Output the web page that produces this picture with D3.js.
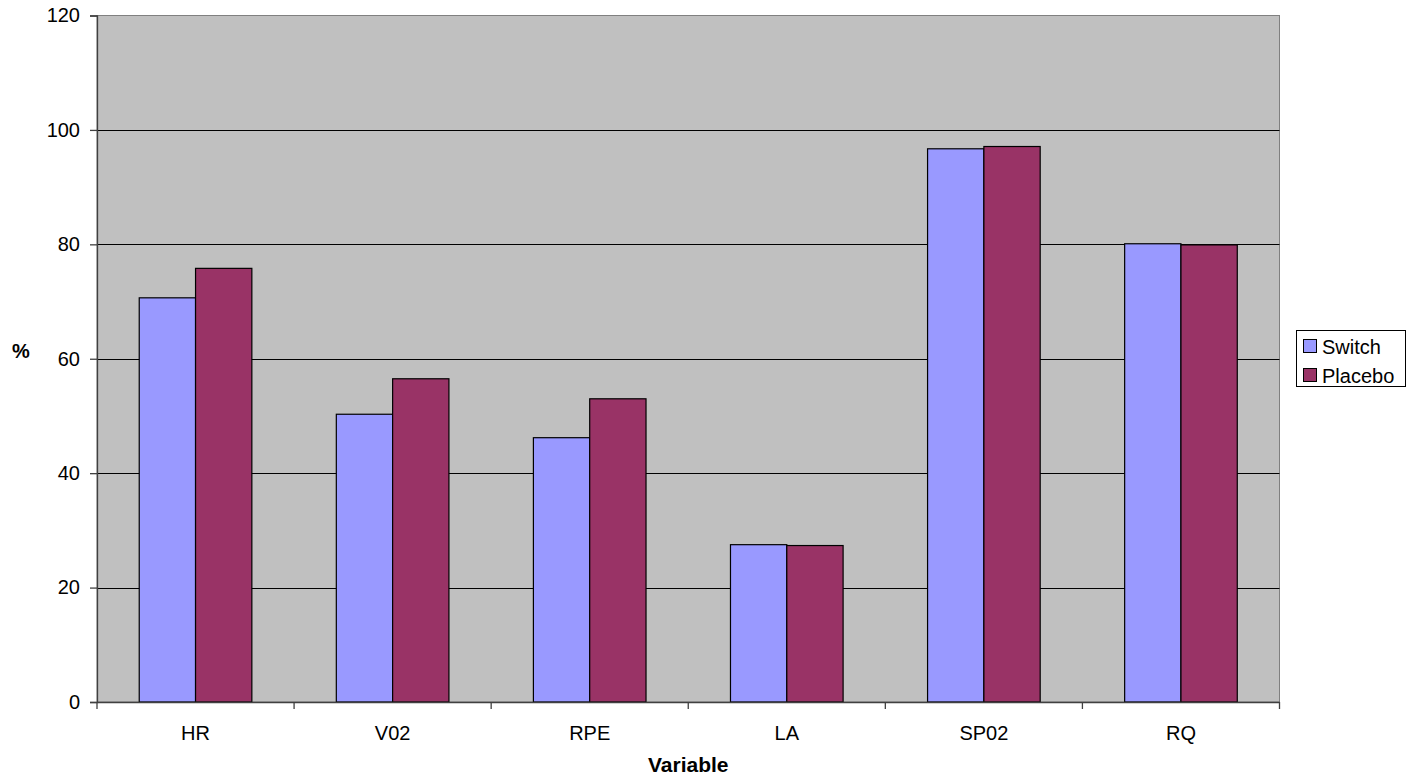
<!DOCTYPE html>
<html><head><meta charset="utf-8">
<script src="https://cdn.jsdelivr.net/npm/d3@7"></script>
<style>
html,body{margin:0;padding:0;background:#fff;}
svg{display:block;font-family:"Liberation Sans",Arial,sans-serif;}
</style></head>
<body>
<svg id="chart" width="1423" height="781"></svg>
<script>
const categories = ["HR","V02","RPE","LA","SP02","RQ"];
const seriesNames = ["Switch","Placebo"];
const switchValues = [70.65, 50.3, 46.2, 27.5, 96.7, 80.1];
const placeboValues = [75.8, 56.5, 53.0, 27.35, 97.1, 79.9];
const yTicks = [0,20,40,60,80,100,120];
const colors = ["#9999FF","#993366"];

const svg = d3.select("#chart");
const m = {left:97, top:15.5, right:1279.5, bottom:702};
const x = d3.scaleBand().domain(categories).range([m.left, m.right]).paddingInner(0).paddingOuter(0);
const x1 = d3.scaleBand().domain(seriesNames).range([0, x.bandwidth()]).paddingInner(0).paddingOuter(0.75);
const y = d3.scaleLinear().domain([0,120]).range([m.bottom, m.top]);

// plot background
svg.append("rect").attr("x",m.left).attr("y",m.top).attr("width",m.right-m.left).attr("height",m.bottom-m.top)
  .attr("fill","#C0C0C0").attr("stroke","#808080").attr("stroke-width",1);

// gridlines
svg.append("g").selectAll("line").data(yTicks.filter(d=>d>0 && d<120)).join("line")
  .attr("x1",m.left).attr("x2",m.right)
  .attr("y1",d=>Math.round(y(d))+0.5).attr("y2",d=>Math.round(y(d))+0.5)
  .attr("stroke","#000").attr("stroke-width",1);

// bars
const data = categories.map((c,i)=>({cat:c, vals:[switchValues[i], placeboValues[i]]}));
const g = svg.append("g");
data.forEach(d=>{
  d.vals.forEach((v,j)=>{
    g.append("rect")
      .attr("x", x(d.cat)+x1(seriesNames[j]))
      .attr("y", y(v))
      .attr("width", x1.bandwidth())
      .attr("height", y(0)-y(v))
      .attr("fill", colors[j]).attr("stroke","#000").attr("stroke-width",1.2);
  });
});

// y axis
const yAxis = d3.axisLeft(y).tickValues(yTicks).tickSize(7).tickPadding(10);
const ya = svg.append("g").attr("transform",`translate(${m.left},0)`).call(yAxis);
ya.select(".domain").attr("stroke","#404040").attr("stroke-width",1.3);
ya.selectAll(".tick line").attr("stroke","#404040").attr("stroke-width",1.3);
ya.selectAll("text").attr("font-size",20).attr("fill","#000").attr("font-family","Liberation Sans, Arial, sans-serif");

// x axis
const xAxis = d3.axisBottom(x).tickSize(0).tickPadding(24);
const xa = svg.append("g").attr("transform",`translate(0,${m.bottom})`).call(xAxis);
xa.select(".domain").attr("stroke","#404040").attr("stroke-width",1.3);
xa.selectAll("text").attr("font-size",20).attr("fill","#000").attr("font-family","Liberation Sans, Arial, sans-serif");
// boundary ticks between categories
const bounds = d3.range(categories.length+1).map(i=>m.left + i*x.step());
xa.selectAll(".bt").data(bounds).join("line").attr("class","bt")
  .attr("x1",d=>d).attr("x2",d=>d).attr("y1",0).attr("y2",7)
  .attr("stroke","#404040").attr("stroke-width",1.3);

// axis titles
svg.append("text").attr("x",(m.left+m.right)/2).attr("y",771.5).attr("text-anchor","middle")
  .attr("font-size",21).attr("font-weight","bold").text("Variable");
svg.append("text").attr("x",21).attr("y",358).attr("text-anchor","middle")
  .attr("font-size",20).attr("font-weight","bold").text("%");

// legend
const lg = svg.append("g").attr("transform","translate(1296.5,330.5)");
lg.append("rect").attr("width",109).attr("height",56).attr("fill","#fff").attr("stroke","#000").attr("stroke-width",1);
seriesNames.forEach((s,i)=>{
  lg.append("rect").attr("x",7).attr("y",9+i*29).attr("width",13).attr("height",13)
    .attr("fill",colors[i]).attr("stroke","#000").attr("stroke-width",1);
  lg.append("text").attr("x",25.5).attr("y",23.5+i*29).attr("font-size",20).text(s);
});
</script>
</body></html>
